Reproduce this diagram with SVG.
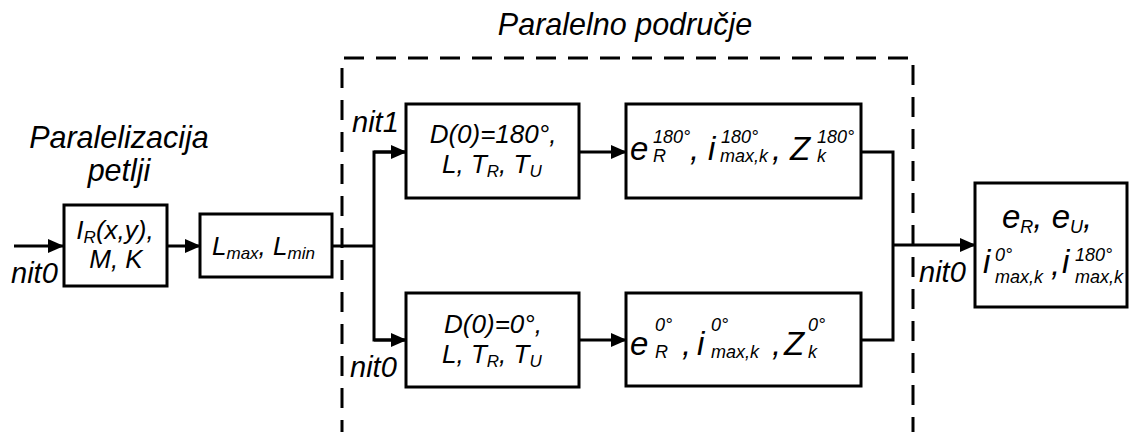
<svg xmlns="http://www.w3.org/2000/svg" width="1129" height="432" viewBox="0 0 1129 432">
<style>
text{font-family:"Liberation Sans",Arial,sans-serif;font-style:italic;fill:#000}
.lbl{font-size:30.5px}
.nit{font-size:29px}
.bx{font-size:26px}
.mt{font-size:33px}
.sm{font-size:18px}
.ss{font-size:17px}
rect.node{fill:#fff;stroke:#000;stroke-width:3}
.conn{fill:none;stroke:#000;stroke-width:3}
.dash{fill:none;stroke:#000;stroke-width:3;stroke-dasharray:20 12}
</style>
<defs>
<marker id="ah" markerUnits="userSpaceOnUse" markerWidth="16" markerHeight="14" refX="15" refY="7" orient="auto">
<path d="M0,0 L16,7 L0,14 Z" fill="#000"/>
</marker>
</defs>
<g id="region">
<path class="dash" d="M342,440 L342,58 L913,58 L913,440"/>
<text class="lbl" x="625" y="35" text-anchor="middle">Paralelno područje</text>
</g>
<g id="title-loop">
<text class="lbl" x="119" y="148" text-anchor="middle">Paralelizacija</text>
<text class="lbl" x="119" y="181" text-anchor="middle">petlji</text>
</g>
<g id="connectors">
<line class="conn" x1="14" y1="246" x2="63" y2="246" marker-end="url(#ah)"/>
<line class="conn" x1="167" y1="246" x2="200" y2="246" marker-end="url(#ah)"/>
<polyline class="conn" points="332,246 374,246"/>
<polyline class="conn" points="406,152 374,152 374,340 406,340"/>
<line class="conn" x1="374" y1="152" x2="406" y2="152" marker-end="url(#ah)"/>
<line class="conn" x1="374" y1="340" x2="406" y2="340" marker-end="url(#ah)"/>
<line class="conn" x1="579" y1="152" x2="626" y2="152" marker-end="url(#ah)"/>
<line class="conn" x1="579" y1="340" x2="626" y2="340" marker-end="url(#ah)"/>
<polyline class="conn" points="861,152 893,152 893,340 861,340"/>
<line class="conn" x1="893" y1="245" x2="975" y2="245" marker-end="url(#ah)"/>
<text class="nit" x="11" y="283">nit0</text>
<text class="nit" x="352" y="132">nit1</text>
<text class="nit" x="350" y="377">nit0</text>
<text class="nit" x="919" y="282">nit0</text>
</g>
<g id="node-input">
<rect class="node" x="64" y="205" width="103" height="81"/>
<text class="bx" x="115" y="239" text-anchor="middle">I<tspan class="ss" dy="4">R</tspan><tspan dy="-4">(x,y),</tspan></text>
<text class="bx" x="116" y="268" text-anchor="middle">M, K</text>
</g>
<g id="node-limits">
<rect class="node" x="200" y="214" width="132" height="63"/>
<text class="bx" x="212" y="255">L<tspan class="ss" dy="4">max</tspan><tspan dy="-4">, L</tspan><tspan class="ss" dy="4">min</tspan></text>
</g>
<g id="node-d180">
<rect class="node" x="406" y="104" width="173" height="94"/>
<text class="bx" x="493" y="143" text-anchor="middle">D(0)=180°,</text>
<text class="bx" x="442" y="173">L, T<tspan class="ss" dy="4">R</tspan><tspan dy="-4">, T</tspan><tspan class="ss" dy="4">U</tspan></text>
</g>
<g id="node-d0">
<rect class="node" x="406" y="293" width="173" height="94"/>
<text class="bx" x="493" y="333" text-anchor="middle">D(0)=0°,</text>
<text class="bx" x="442" y="363">L, T<tspan class="ss" dy="4">R</tspan><tspan dy="-4">, T</tspan><tspan class="ss" dy="4">U</tspan></text>
</g>
<g id="node-e180">
<rect class="node" x="626" y="104" width="235" height="94"/>
<text class="mt" x="630" y="160">e<tspan class="sm" x="653" y="143">180°</tspan><tspan class="sm" x="653" y="162">R</tspan><tspan x="690" y="160">,</tspan><tspan x="708" y="160">i</tspan><tspan class="sm" x="721" y="143">180°</tspan><tspan class="sm" x="720" y="162">max,k</tspan><tspan x="772" y="160">,</tspan><tspan x="790" y="160">Z</tspan><tspan class="sm" x="817" y="143">180°</tspan><tspan class="sm" x="817" y="162">k</tspan></text>
</g>
<g id="node-e0">
<rect class="node" x="626" y="293" width="235" height="93"/>
<text class="mt" x="630" y="355">e<tspan class="sm" x="655" y="331">0°</tspan><tspan class="sm" x="655" y="358">R</tspan><tspan x="682" y="355">,</tspan><tspan x="697" y="355">i</tspan><tspan class="sm" x="711" y="331">0°</tspan><tspan class="sm" x="711" y="358">max,k</tspan><tspan x="772" y="355">,</tspan><tspan x="784" y="355">Z</tspan><tspan class="sm" x="808" y="331">0°</tspan><tspan class="sm" x="808" y="358">k</tspan></text>
</g>
<g id="node-result">
<rect class="node" x="975" y="183" width="152" height="124"/>
<text class="mt" x="1002" y="228">e<tspan class="sm" dy="5">R</tspan><tspan dy="-5">, e</tspan><tspan class="sm" dy="5">U</tspan><tspan dy="-5">,</tspan></text>
<text class="mt" x="983" y="273">i<tspan class="sm" x="995" y="261">0°</tspan><tspan class="sm" x="995" y="283">max,k</tspan><tspan x="1051" y="275">,</tspan><tspan x="1062" y="273">i</tspan><tspan class="sm" x="1075" y="261">180°</tspan><tspan class="sm" x="1075" y="283">max,k</tspan></text>
</g>
</svg>
